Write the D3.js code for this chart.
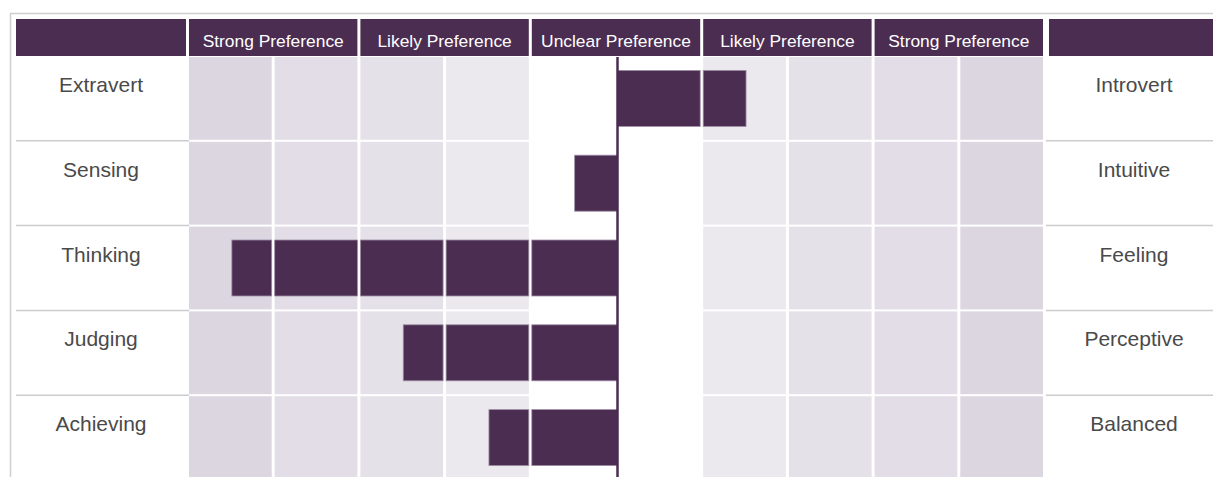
<!DOCTYPE html>
<html>
<head>
<meta charset="utf-8">
<script src="https://cdn.jsdelivr.net/npm/d3@7"></script>
<style>
  body { margin: 0; background: #fff; }
  svg { display: block; font-family: "Helvetica Neue", Helvetica, Arial, "Liberation Sans", sans-serif; }
</style>
</head>
<body>
<div id="chart"></div>
<script>
// data
var leftLabels = ["Extravert", "Sensing", "Thinking", "Judging", "Achieving"];
var rightLabels = ["Introvert", "Intuitive", "Feeling", "Perceptive", "Balanced"];
var scores = [15, -5, -45, -25, -15];
var zones = ["Strong Preference", "Likely Preference", "Unclear Preference", "Likely Preference", "Strong Preference"];
var zoneEdges = [-50, -30, -10, 10, 30, 50];
var cellEdges = [-50, -40, -30, -20, -10, 0, 10, 20, 30, 40, 50];

var W = 1213, H = 477;
var purple = "#4b2d52";
var gap = 3;

var svg = d3.select("#chart").append("svg").attr("width", W).attr("height", H);

// scales
var x = d3.scaleLinear().domain([-50, 50]).range([189, 1046]);
var y = d3.scaleBand().domain(leftLabels).range([57, 481]);
var labelW = x(-50) - gap - 16;   // width of the side label columns

// shade of each sub column, darker towards the ends, white in the middle
var shade = d3.scaleOrdinal()
    .domain([0, 1, 2, 3, 4, 5, 6, 7, 8, 9])
    .range(["#dcd6e1", "#e2dde7", "#e5e1e9", "#ebe8ee", "#ffffff", "#ffffff", "#ebe8ee", "#e5e1e9", "#e2dde7", "#dcd6e1"]);

// outer frame
svg.append("line").attr("x1", 10).attr("x2", W).attr("y1", 13.5).attr("y2", 13.5)
    .attr("stroke", "#cfcfcf").attr("stroke-width", 1.5);
svg.append("line").attr("x1", 10.5).attr("x2", 10.5).attr("y1", 13).attr("y2", H)
    .attr("stroke", "#cfcfcf").attr("stroke-width", 1.5);

// header
var header = svg.append("g");
header.append("rect").attr("x", 16).attr("y", 19).attr("width", labelW).attr("height", 37).attr("fill", purple);
header.append("rect").attr("x", x(50) + gap).attr("y", 19).attr("width", labelW).attr("height", 37).attr("fill", purple);
header.selectAll("g.zone")
  .data(zones)
  .enter().append("g")
    .attr("class", "zone")
    .each(function(d, i) {
      var g = d3.select(this);
      var x0 = x(zoneEdges[i]), x1 = x(zoneEdges[i + 1]);
      g.append("rect")
        .attr("x", x0).attr("y", 19)
        .attr("width", x1 - x0 - gap).attr("height", 37)
        .attr("fill", purple);
      g.append("text")
        .attr("x", (x0 + x1 - gap) / 2).attr("y", 47)
        .attr("text-anchor", "middle")
        .attr("fill", "#fff")
        .attr("font-size", 17.4)
        .text(d);
    });

// grid cells
var cells = [];
leftLabels.forEach(function(row) {
  for (var i = 0; i < cellEdges.length - 1; i++) cells.push({row: row, i: i});
});
svg.append("g").selectAll("rect")
  .data(cells)
  .enter().append("rect")
    .attr("x", function(d) { return x(cellEdges[d.i]); })
    .attr("y", function(d) { return y(d.row); })
    .attr("width", function(d) { return x(cellEdges[d.i + 1]) - x(cellEdges[d.i]) - gap; })
    .attr("height", y.bandwidth() - 2)
    .attr("fill", function(d) { return shade(d.i); });

// row separators in the label columns
var seps = leftLabels.slice(1);
svg.append("g").selectAll("line.l")
  .data(seps)
  .enter().append("line")
    .attr("x1", 16).attr("x2", x(-50))
    .attr("y1", function(d) { return y(d) - 1; })
    .attr("y2", function(d) { return y(d) - 1; })
    .attr("stroke", "#cccccc").attr("stroke-width", 1.5);
svg.append("g").selectAll("line.r")
  .data(seps)
  .enter().append("line")
    .attr("x1", x(50)).attr("x2", W)
    .attr("y1", function(d) { return y(d) - 1; })
    .attr("y2", function(d) { return y(d) - 1; })
    .attr("stroke", "#cccccc").attr("stroke-width", 1.5);

// side labels
svg.append("g").selectAll("text")
  .data(leftLabels)
  .enter().append("text")
    .attr("x", 16 + labelW / 2)
    .attr("y", function(d) { return y(d) + 35; })
    .attr("text-anchor", "middle")
    .attr("fill", "#4a4a4a")
    .attr("font-size", 21)
    .text(function(d) { return d; });
svg.append("g").selectAll("text")
  .data(rightLabels)
  .enter().append("text")
    .attr("x", x(50) + gap + labelW / 2)
    .attr("y", function(d, i) { return y(leftLabels[i]) + 35; })
    .attr("text-anchor", "middle")
    .attr("fill", "#4a4a4a")
    .attr("font-size", 21)
    .text(function(d) { return d; });

// bars, split into pieces at the sub column gaps
var barH = 56;
var pieces = [];
scores.forEach(function(s, r) {
  var lo = Math.min(0, s), hi = Math.max(0, s);
  for (var i = 0; i < cellEdges.length - 1; i++) {
    var a = Math.max(lo, cellEdges[i]), b = Math.min(hi, cellEdges[i + 1]);
    if (b <= a) continue;
    var x0 = x(a), x1 = x(b);
    if (b === cellEdges[i + 1] && cellEdges[i + 1] !== 0) x1 -= gap;
    pieces.push({row: leftLabels[r], x0: x0, x1: x1});
  }
});
svg.append("g").selectAll("rect")
  .data(pieces)
  .enter().append("rect")
    .attr("x", function(d) { return d.x0; })
    .attr("y", function(d) { return y(d.row) + (y.bandwidth() - 2 - barH) / 2; })
    .attr("width", function(d) { return d.x1 - d.x0; })
    .attr("height", barH)
    .attr("fill", purple)
    .attr("stroke", "#9e8ea6")
    .attr("stroke-width", 0.8);

// centre line
svg.append("line")
    .attr("x1", x(0)).attr("x2", x(0))
    .attr("y1", y.range()[0]).attr("y2", H)
    .attr("stroke", purple).attr("stroke-width", 2.5);
</script>
</body>
</html>
